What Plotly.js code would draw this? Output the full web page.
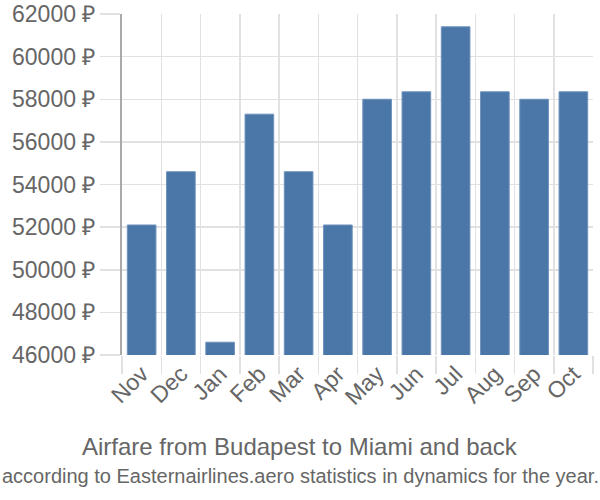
<!DOCTYPE html>
<html>
<head>
<meta charset="utf-8">
<script src="https://cdn.plot.ly/plotly-3.0.1.min.js"></script>
<style>
  html, body { margin: 0; padding: 0; background: #fff; }
  #chart { width: 600px; height: 500px; }
</style>
</head>
<body>
<div id="chart"></div>
<script>
// Airfare Budapest -> Miami, monthly prices (RUB)
const months = ["Nov", "Dec", "Jan", "Feb", "Mar", "Apr", "May", "Jun", "Jul", "Aug", "Sep", "Oct"];
const prices = [52100, 54600, 46600, 57300, 54600, 52100, 58000, 58350, 61400, 58350, 58000, 58350];
const yTicks = [46000, 48000, 50000, 52000, 54000, 56000, 58000, 60000, 62000];

const grey = "#e1e1e1";
const textGrey = "#666";
// plot area spans x 122..593 px; titles are centred on the page
const pageCentre = (300 - 122) / 471;

const trace = {
  x: months,
  y: prices,
  type: "bar",
  marker: { color: "#4a77a8", line: { color: "#6f93bd", width: 1 } },
  hoverinfo: "x+y",
};

const layout = {
  width: 600,
  height: 500,
  margin: { l: 122, r: 7, t: 14, b: 145 },
  paper_bgcolor: "#fff",
  plot_bgcolor: "#fff",
  font: { family: "Liberation Sans, Arial, sans-serif", color: textGrey, size: 23 },
  bargap: 0.27,
  showlegend: false,
  xaxis: {
    type: "category",
    tickson: "boundaries",
    ticks: "outside",
    ticklen: 18,
    tickcolor: grey,
    tickwidth: 1.5,
    showgrid: true,
    gridcolor: grey,
    gridwidth: 1.5,
    tickangle: -45,
    tickfont: { size: 23, color: textGrey },
    showline: false,
    zeroline: false,
  },
  yaxis: {
    range: [46000, 62000],
    tickvals: yTicks,
    ticktext: yTicks.map((v) => v + " ₽"),
    ticks: "outside",
    ticklen: 20,
    tickcolor: grey,
    tickwidth: 1.5,
    showgrid: true,
    gridcolor: grey,
    gridwidth: 1.5,
    showline: true,
    linecolor: "#aaa",
    linewidth: 2,
    zeroline: false,
    tickfont: { size: 23, color: textGrey },
  },
  annotations: [
    {
      text: "Airfare from Budapest to Miami and back",
      xref: "paper", yref: "paper", x: pageCentre, y: -0.267,
      xanchor: "center", yanchor: "middle",
      showarrow: false,
      font: { size: 24, color: textGrey },
    },
    {
      text: "according to Easternairlines.aero statistics in dynamics for the year.",
      xref: "paper", yref: "paper", x: pageCentre, y: -0.355,
      xanchor: "center", yanchor: "middle",
      showarrow: false,
      font: { size: 20, color: textGrey },
    },
  ],
};

Plotly.newPlot("chart", [trace], layout, { displayModeBar: false, staticPlot: true });
</script>
</body>
</html>
